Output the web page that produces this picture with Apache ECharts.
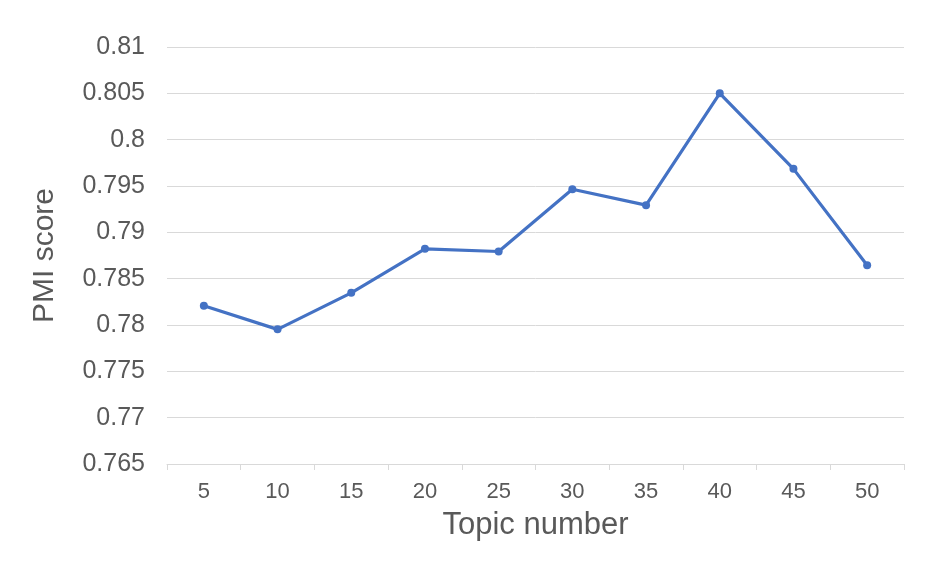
<!DOCTYPE html>
<html><head><meta charset="utf-8">
<script src="https://cdn.jsdelivr.net/npm/echarts@6/dist/echarts.min.js"></script>
<style>html,body{margin:0;padding:0;background:#fff}#c{width:947px;height:575px}</style>
</head><body><div id="c"></div>
<script>
const categories = ['5','10','15','20','25','30','35','40','45','50'];
const pmiScores = [0.78208, 0.77953, 0.78347, 0.78822, 0.78793, 0.79465, 0.79293, 0.80500, 0.79685, 0.78645];
const yMin = 0.765, yMax = 0.81, yStep = 0.005;
const xName = 'Topic number', yName = 'PMI score';

const chart = echarts.init(document.getElementById('c'), null, {renderer:'canvas'});
chart.setOption({
  animation:false,
  grid:{left:167, right:43, top:47, bottom:111, containLabel:false},
  xAxis:{
    type:'category', data:categories, boundaryGap:true,
    name:xName, nameLocation:'middle', nameGap:46,
    nameTextStyle:{fontSize:31, color:'#595959', fontFamily:'Liberation Sans, sans-serif'},
    axisLine:{lineStyle:{color:'#d9d9d9', width:1}},
    axisTick:{show:true, length:6, lineStyle:{color:'#d9d9d9'}},
    axisLabel:{fontSize:22, color:'#595959', margin:17, fontFamily:'Liberation Sans, sans-serif'}
  },
  yAxis:{
    type:'value', min:yMin, max:yMax, interval:yStep,
    name:yName, nameLocation:'middle', nameGap:107, nameRotate:90,
    nameTextStyle:{fontSize:30, color:'#595959', fontFamily:'Liberation Sans, sans-serif'},
    axisLine:{show:false}, axisTick:{show:false},
    splitLine:{lineStyle:{color:'#d9d9d9', width:1}},
    axisLabel:{fontSize:25, color:'#595959', margin:22, padding:[5,0,0,0], fontFamily:'Liberation Sans, sans-serif',
      formatter:v=>parseFloat(v.toFixed(3)).toString()}
  },
  series:[{
    type:'line', data:pmiScores,
    lineStyle:{color:'#4472c4', width:3.2},
    itemStyle:{color:'#4472c4'},
    symbol:'circle', symbolSize:8, showSymbol:true
  }]
});
</script></body></html>
